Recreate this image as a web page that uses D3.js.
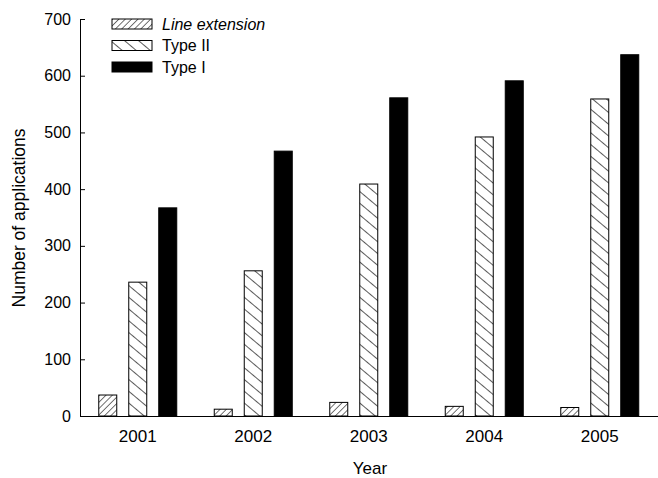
<!DOCTYPE html>
<html>
<head>
<meta charset="utf-8">
<script src="https://cdn.jsdelivr.net/npm/d3@7"></script>
<style>
  body { margin: 0; background: #fff; }
  text { font-family: "Liberation Sans", Arial, sans-serif; fill: #000; }
</style>
</head>
<body>
<div id="vis"></div>
<script>
// chart data
const YEARS = ["2001", "2002", "2003", "2004", "2005"];
const SERIES = ["Line extension", "Type II", "Type I"];
const LINE_EXT = [37, 12, 24, 17, 15];
const TYPE_II = [236, 256, 409, 492, 559];
const TYPE_I = [367, 467, 561, 591, 637];
const Y_TICKS = [0, 100, 200, 300, 400, 500, 600, 700];

const FRAME_WIDTH = 658;
const FRAME_HEIGHT = 478;
const MARGINS = {left: 80, right: 0, top: 19, bottom: 62};

const SVG = d3.select("#vis")
    .append("svg")
    .attr("width", FRAME_WIDTH)
    .attr("height", FRAME_HEIGHT);

// hatch patterns
const DEFS = SVG.append("defs");
DEFS.append("pattern")
    .attr("id", "hatch-fwd")
    .attr("patternUnits", "userSpaceOnUse")
    .attr("width", 4.5).attr("height", 4.5)
    .attr("patternTransform", "rotate(45)")
    .append("line")
    .attr("x1", 0).attr("y1", 0).attr("x2", 0).attr("y2", 4.5)
    .attr("stroke", "#000").attr("stroke-width", 1.1);
DEFS.append("pattern")
    .attr("id", "hatch-back")
    .attr("patternUnits", "userSpaceOnUse")
    .attr("width", 9).attr("height", 9)
    .attr("patternTransform", "rotate(-50)")
    .append("line")
    .attr("x1", 0).attr("y1", 0).attr("x2", 0).attr("y2", 9)
    .attr("stroke", "#000").attr("stroke-width", 1.3);

const FILLS = {"Line extension": "url(#hatch-fwd)", "Type II": "url(#hatch-back)", "Type I": "#000"};

const DATA = YEARS.map((y, i) => ({
    year: y,
    values: [
        {series: SERIES[0], value: LINE_EXT[i]},
        {series: SERIES[1], value: TYPE_II[i]},
        {series: SERIES[2], value: TYPE_I[i]}
    ]
}));

const X0 = d3.scaleBand()
    .domain(YEARS)
    .range([MARGINS.left, FRAME_WIDTH - MARGINS.right - 0.5]);
const X1 = d3.scaleBand()
    .domain(SERIES)
    .range([-43.5, 43.5])
    .paddingInner(0.4)
    .paddingOuter(0.15);
const Y = d3.scaleLinear()
    .domain([0, 700])
    .range([FRAME_HEIGHT - MARGINS.bottom, MARGINS.top]);

// bars
const GROUPS = SVG.selectAll(".group")
    .data(DATA)
    .enter()
    .append("g")
    .attr("transform", (d) => "translate(" + (X0(d.year) + X0.bandwidth() / 2) + ",0)");

GROUPS.selectAll("rect")
    .data((d) => d.values)
    .enter()
    .append("rect")
    .attr("x", (d) => X1(d.series))
    .attr("y", (d) => Y(d.value))
    .attr("width", X1.bandwidth())
    .attr("height", (d) => Y(0) - Y(d.value))
    .attr("fill", (d) => FILLS[d.series])
    .attr("stroke", "#000")
    .attr("stroke-width", 1);

// y axis, ticks pointing inward
SVG.append("g")
    .attr("transform", "translate(" + MARGINS.left + ",0)")
    .call(d3.axisRight(Y).tickValues(Y_TICKS).tickSize(5).tickSizeOuter(0))
    .call((g) => g.selectAll(".tick text")
        .attr("x", -9)
        .attr("text-anchor", "end")
        .attr("font-size", "16px"))
    .call((g) => g.select(".domain").attr("stroke", "#000"));

// x axis, no tick marks
SVG.append("g")
    .attr("transform", "translate(0," + Y(0) + ")")
    .call(d3.axisBottom(X0).tickSize(0).tickPadding(14))
    .call((g) => g.selectAll(".tick text").attr("font-size", "17px"))
    .call((g) => g.select(".domain").attr("stroke", "#000"));

// axis titles
SVG.append("text")
    .attr("x", 370)
    .attr("y", 474)
    .attr("text-anchor", "middle")
    .attr("font-size", "17px")
    .text("Year");
SVG.append("text")
    .attr("transform", "translate(25," + 218 + ") rotate(-90)")
    .attr("text-anchor", "middle")
    .attr("font-size", "17.5px")
    .text("Number of applications");

// legend
const LEGEND = SVG.append("g").attr("transform", "translate(112,19)");
SERIES.forEach((s, i) => {
    LEGEND.append("rect")
        .attr("x", 0)
        .attr("y", i * 21.5)
        .attr("width", 40)
        .attr("height", 10)
        .attr("fill", FILLS[s])
        .attr("stroke", "#000");
    LEGEND.append("text")
        .attr("x", 50)
        .attr("y", i * 21.5 + 10.5)
        .attr("font-size", "16px")
        .attr("font-style", i === 0 ? "italic" : "normal")
        .text(s);
});
</script>
</body>
</html>
